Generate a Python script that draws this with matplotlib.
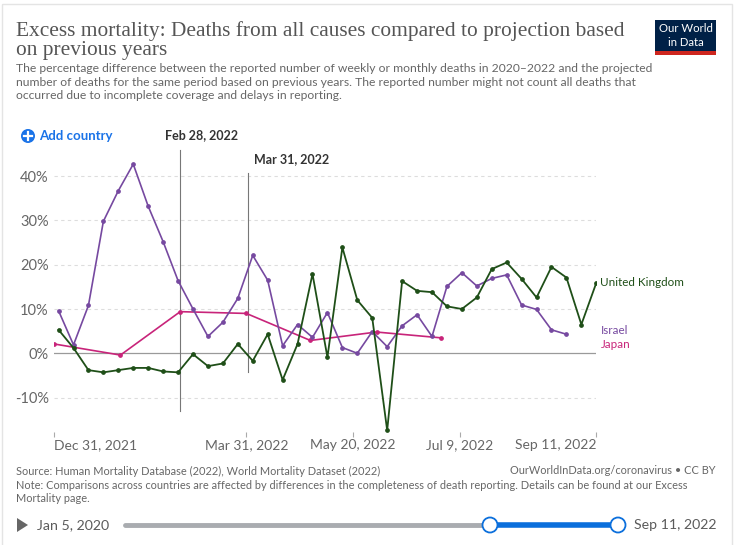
import datetime as dt
import matplotlib
matplotlib.use("Agg")
import matplotlib.pyplot as plt
from matplotlib.patches import Rectangle, Circle, Polygon

# weekly series (Sundays), values in %
uk_start = dt.date(2022, 1, 2)
uk_vals = [5.3, 1.2, -3.8, -4.3, -3.8, -3.3, -3.3, -4.1, -4.3, -0.2, -2.9, -2.3,
           2.1, -1.7, 4.3, -6.0, 2.1, 17.9, -0.9, 23.9, 12.0, 8.0, -17.4, 16.3,
           14.1, 13.8, 10.6, 10.0, 12.6, 19.0, 20.5, 16.8, 12.6, 19.5, 17.1,
           6.5, 15.9]
israel_start = dt.date(2022, 1, 2)
israel_vals = [9.6, 1.9, 10.8, 29.8, 36.7, 42.7, 33.2, 25.2, 16.4, 10.0, 3.8,
               7.0, 12.4, 22.1, 16.5, 1.7, 6.5, 3.6, 9.2, 1.3, 0.0, 4.9, 1.5,
               6.2, 8.7, 3.8, 15.1, 18.2, 15.2, 16.9, 17.7, 10.9, 9.9, 5.3, 4.3]
# monthly series (end of month)
japan_dates = [dt.date(2021, 12, 31), dt.date(2022, 1, 31), dt.date(2022, 2, 28),
               dt.date(2022, 3, 31), dt.date(2022, 4, 30), dt.date(2022, 5, 31),
               dt.date(2022, 6, 30)]
japan_vals = [2.1, -0.4, 9.4, 9.0, 2.9, 4.8, 3.5]

x_ticks = [dt.date(2021, 12, 31), dt.date(2022, 3, 31), dt.date(2022, 5, 20),
           dt.date(2022, 7, 9), dt.date(2022, 9, 11)]
x_tick_labels = ["Dec 31, 2021", "Mar 31, 2022", "May 20, 2022", "Jul 9, 2022",
                 "Sep 11, 2022"]
y_ticks = [-10, 0, 10, 20, 30, 40]
y_tick_labels = ["-10%", "0%", "10%", "20%", "30%", "40%"]

marker_dates = [dt.date(2022, 2, 28), dt.datetime(2022, 3, 31, 22)]
marker_labels = ["Feb 28, 2022", "Mar 31, 2022"]

UK_COL = "#1f4f18"
IL_COL = "#7649a0"
JP_COL = "#c8247a"
W, H = 734, 545


def weekly(start, n):
    return [start + dt.timedelta(days=7 * i) for i in range(n)]


def main():
    plt.rcParams["font.family"] = ["Lato", "DejaVu Sans"]
    fig = plt.figure(figsize=(W / 100, H / 100), dpi=100)

    # overlay in pixel coordinates for the decorations
    deco = fig.add_axes([0, 0, 1, 1], zorder=0)
    deco.set_xlim(0, W)
    deco.set_ylim(H, 0)
    deco.axis("off")

    deco.add_patch(Rectangle((2, 4), 730, 545, fill=False, ec="#e4e4e4", lw=1))

    deco.text(16, 31, "Excess mortality: Deaths from all causes compared to projection based",
              family="Liberation Serif", fontsize=15.4, color="#555555", va="center")
    deco.text(16, 51, "on previous years",
              family="Liberation Serif", fontsize=15.4, color="#555555", va="center")
    subtitle = ("The percentage difference between the reported number of weekly or monthly deaths in 2020–2022 and the projected\n"
                "number of deaths for the same period based on previous years. The reported number might not count all deaths that\n"
                "occurred due to incomplete coverage and delays in reporting.")
    deco.text(16, 63, subtitle, fontsize=8.7, color="#666666", va="top", linespacing=1.3)

    # logo
    deco.add_patch(Rectangle((655, 20), 61, 35, fc="#002147", ec="none"))
    deco.add_patch(Rectangle((655, 51), 61, 4, fc="#ce261e", ec="none"))
    deco.text(685.5, 29, "Our World", color="white", fontsize=8.2, ha="center", va="center")
    deco.text(685.5, 43, "in Data", color="white", fontsize=8.2, ha="center", va="center")

    # add country
    deco.add_patch(Circle((28, 136), 7, fc="#1a73e8", ec="none"))
    deco.plot([24, 32], [136, 136], color="white", lw=1.6)
    deco.plot([28, 28], [132, 140], color="white", lw=1.6)
    deco.text(39, 136, "Add country", color="#1a73e8", fontsize=9.5,
              fontweight="bold", va="center")

    # footer
    deco.text(16, 471, "Source: Human Mortality Database (2022), World Mortality Dataset (2022)",
              fontsize=7.95, color="#666666", va="center")
    deco.text(716, 471, "OurWorldInData.org/coronavirus • CC BY",
              fontsize=7.95, color="#666666", va="center", ha="right")
    deco.text(16, 480, "Note: Comparisons across countries are affected by differences in the completeness of death reporting. Details can be found at our Excess\nMortality page.",
              fontsize=7.95, color="#666666", va="top", linespacing=1.25)

    # timeline slider
    deco.add_patch(Polygon([[17, 518], [17, 532], [28, 525]], fc="#666666", ec="none"))
    deco.text(37, 525, "Jan 5, 2020", fontsize=10.2, color="#5b5b5b", va="center")
    deco.plot([125, 490], [525, 525], color="#a9acb0", lw=3.5, solid_capstyle="round")
    deco.plot([490, 618], [525, 525], color="#0b6fdc", lw=4)
    for cx in (490, 618):
        deco.add_patch(Circle((cx, 525), 7.5, fc="white", ec="#0b6fdc", lw=1.3, zorder=5))
    deco.text(634, 525, "Sep 11, 2022", fontsize=10.2, color="#5b5b5b", va="center")

    # main chart
    x0, x1 = 54.3, 596.3
    yb, yt = 431.7, 158.4
    ax = fig.add_axes([x0 / W, (H - yb) / H, (x1 - x0) / W, (yb - yt) / H], zorder=2)
    ax.patch.set_alpha(0)
    ax.set_xlim(x_ticks[0], x_ticks[-1])
    ax.set_ylim(-17.7, 44)

    for yv in y_ticks:
        if yv == 0:
            ax.axhline(0, color="#9a9a9a", lw=0.9, zorder=1)
        else:
            ax.axhline(yv, color="#dddddd", lw=0.8, ls=(0, (3, 3)), zorder=0)

    for d, lab, top, bot, lx in zip(marker_dates, marker_labels, [46.0, 40.7],
                                    [-13.0, -4.2], [dt.date(2022, 3, 10), dt.date(2022, 4, 21)]):
        ax.plot([d, d], [bot, top], color="#777777", lw=0.8, clip_on=False, zorder=1)
        ax.text(lx, top + 3.2, lab, ha="center", va="center", fontsize=9,
                fontweight="bold", color="#333333", clip_on=False)

    uk_dates = weekly(uk_start, len(uk_vals))
    il_dates = weekly(israel_start, len(israel_vals))
    ax.plot(japan_dates, japan_vals, color=JP_COL, lw=1.2, marker="o", ms=2.4, zorder=3)
    ax.plot(il_dates, israel_vals, color=IL_COL, lw=1.2, marker="o", ms=2.4, zorder=4)
    ax.plot(uk_dates, uk_vals, color=UK_COL, lw=1.3, marker="o", ms=2.4, zorder=5)

    end = x_ticks[-1]
    ax.annotate("United Kingdom", (end, uk_vals[-1]), xytext=(3, 0), textcoords="offset points",
                color=UK_COL, fontsize=8.4, va="center", annotation_clip=False)
    ax.annotate("Israel", (end, israel_vals[-1]), xytext=(3, 3), textcoords="offset points",
                color=IL_COL, fontsize=8.4, va="center", annotation_clip=False)
    ax.annotate("Japan", (end, japan_vals[-1]), xytext=(3, -4.5), textcoords="offset points",
                color=JP_COL, fontsize=8.4, va="center", annotation_clip=False)

    ax.set_xticks(x_ticks)
    ax.set_xticklabels(x_tick_labels)
    labels = ax.get_xticklabels()
    labels[0].set_horizontalalignment("left")
    labels[-1].set_horizontalalignment("right")
    ax.set_yticks(y_ticks)
    ax.set_yticklabels(y_tick_labels)
    ax.tick_params(axis="x", length=3.5, color="#aaaaaa", labelsize=10,
                   labelcolor="#666666", pad=2)
    ax.tick_params(axis="y", length=0, labelsize=10.5, labelcolor="#666666", pad=4)
    for s in ax.spines.values():
        s.set_visible(False)

    fig.savefig("out.png", dpi=100)


if __name__ == "__main__":
    main()
